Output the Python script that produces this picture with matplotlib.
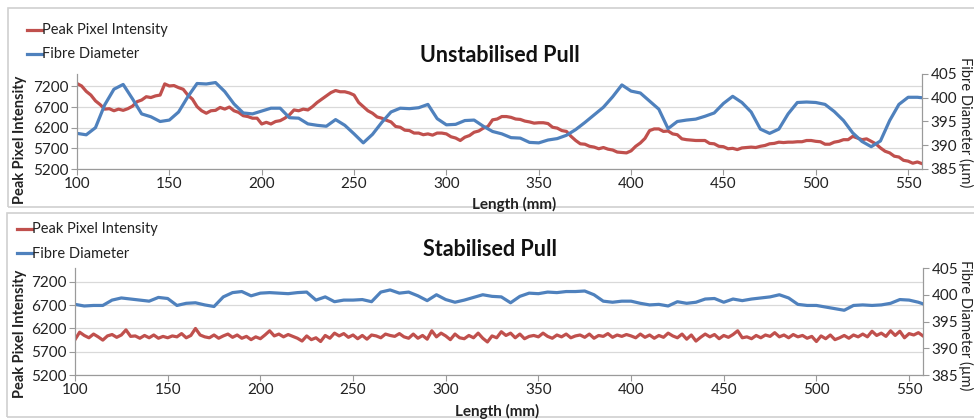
import numpy as np
import matplotlib.pyplot as plt
from matplotlib.patches import Rectangle
from matplotlib.lines import Line2D

plt.rcParams['font.family'] = ['Lato', 'DejaVu Sans']

RED = "#C0504D"
BLUE = "#4F81BD"
GRID = "#D9D9D9"
AXIS = "#9A9A9A"

# ---- data ----
x_red = np.arange(100, 560, 2.5)          # 184 samples
x_blue = np.append(np.arange(100, 560, 5), 557.5)

unstab_intensity = [
    7270, 7210, 7080, 6990, 6850, 6760, 6650, 6660, 6610, 6650,
    6620, 6660, 6720, 6830, 6870, 6950, 6930, 6970, 6990, 7260,
    7210, 7220, 7170, 7130, 6990, 6890, 6710, 6610, 6550, 6610,
    6620, 6690, 6650, 6700, 6610, 6570, 6490, 6470, 6430, 6430,
    6290, 6330, 6290, 6350, 6370, 6430, 6510, 6630, 6610, 6650,
    6630, 6710, 6810, 6890, 6970, 7050, 7100, 7070, 7070, 7040,
    6990, 6810, 6710, 6610, 6550, 6460, 6430, 6380, 6340, 6230,
    6210, 6140, 6130, 6070, 6070, 6030, 6050, 6020, 6070, 6070,
    6050, 5980, 5950, 5890, 5970, 6010, 6090, 6120, 6190, 6230,
    6390, 6410, 6470, 6470, 6450, 6410, 6400, 6360, 6340, 6310,
    6320, 6320, 6300, 6210, 6190, 6130, 6110, 5990, 5890, 5810,
    5800, 5750, 5730, 5690, 5720, 5680, 5660, 5610, 5600, 5590,
    5640, 5750, 5830, 5940, 6130, 6170, 6170, 6110, 6120, 6050,
    6030, 5930, 5910, 5900, 5890, 5890, 5890, 5820, 5810, 5750,
    5740, 5690, 5700, 5670, 5710, 5720, 5730, 5720, 5750, 5770,
    5810, 5820, 5850, 5840, 5850, 5850, 5860, 5860, 5890, 5890,
    5870, 5860, 5800, 5800, 5850, 5870, 5910, 5910, 5990, 5950,
    5910, 5930, 5870, 5810, 5710, 5630, 5590, 5510, 5490, 5410,
    5390, 5340, 5370, 5330,
]

unstab_diameter = [
    392.5, 392.2, 393.7, 398.5, 401.8, 402.8, 399.8, 396.6, 396.0, 395.0,
    395.3, 397.0, 400.2, 403.0, 402.9, 403.2, 401.3, 398.7, 396.8, 396.6,
    397.2, 397.8, 397.8, 395.8, 395.7, 394.5, 394.2, 394.0, 395.4, 394.2,
    392.4, 390.5, 392.3, 394.8, 397.0, 397.8, 397.7, 397.9, 398.6, 395.6,
    394.3, 394.4, 395.2, 395.3, 394.0, 392.9, 392.4, 391.6, 391.5, 390.6,
    390.5, 391.1, 391.4, 392.1, 393.3, 394.8, 396.4, 398.0, 400.2, 402.7,
    401.4, 401.0, 399.3, 397.6, 393.5, 395.0, 395.3, 395.5, 396.1, 396.8,
    398.8, 400.3, 399.0, 397.0, 393.4, 392.5, 393.4, 396.6, 399.0, 399.1,
    399.0, 398.6, 397.1, 395.2, 392.6, 390.8, 389.7, 390.9, 395.2, 398.6,
    400.1, 400.1, 400.0,
]

stab_intensity = [
    5960, 6120, 6050, 6000, 6080, 6020, 5950, 6040, 6070, 6010,
    6060, 6170, 6030, 6040, 5990, 6050, 6000, 6060, 5990, 6030,
    6000, 6040, 6020, 6090, 6000, 6050, 6200, 6060, 6020, 6000,
    6060, 5990, 6040, 6080, 6010, 6060, 5990, 6030, 5960, 6020,
    5980, 6060, 6150, 6040, 6080, 6020, 6070, 6030, 5990, 5930,
    6040, 5960, 6000, 5920, 6050, 5990, 6100, 6040, 6090, 6010,
    6060, 5980, 6050, 5970, 6060, 6040, 6000, 6080, 6050, 6030,
    6090, 6020, 5990, 6080, 5990, 6050, 5970, 6150, 6020, 6100,
    6040, 5960, 6080, 6000, 5980, 6050, 6000, 6100, 5990, 5910,
    6040, 6000, 6130, 6050, 6100, 6000, 6080, 5980, 6030, 6050,
    6020, 6100, 6030, 5990, 6060, 6020, 6080, 6000, 6040, 6060,
    6010, 6080, 5990, 6050, 6030, 6090, 6010, 6060, 6030, 6070,
    6040, 6000, 6080, 6010, 6060, 5990, 6050, 6010, 6100, 6040,
    6000, 6080, 5970, 6060, 5930, 6010, 6080, 6020, 6070, 5980,
    6050, 6010, 6070, 6150, 6000, 6020, 5980, 6050, 6000, 6060,
    6030, 6110, 6020, 6060, 6000, 6070, 6020, 6050, 5990, 6030,
    5920, 6040, 5980, 6060, 5960, 6000, 6050, 5990, 6060, 6020,
    6080, 6020, 6140, 6050, 6100, 6030, 6150, 6050, 6140, 6000,
    6090, 6060, 6110, 6040,
]

stab_diameter = [
    398.2, 397.9, 398.0, 398.0, 399.0, 399.4, 399.2, 399.0, 398.8, 399.5,
    399.3, 398.0, 398.4, 398.5, 398.1, 397.8, 399.6, 400.4, 400.6, 399.8,
    400.3, 400.4, 400.3, 400.2, 400.4, 400.5, 399.0, 399.6, 398.7, 399.0,
    399.0, 399.1, 398.7, 400.5, 400.9, 400.3, 400.5, 399.8, 398.9, 400.0,
    399.1, 398.6, 399.0, 399.5, 400.0, 399.7, 399.6, 398.5, 399.7, 400.3,
    400.2, 400.5, 400.4, 400.6, 400.6, 400.7, 400.0, 398.8, 398.6, 398.8,
    398.8, 398.4, 398.1, 398.2, 397.9, 398.7, 398.4, 398.6, 399.2, 399.3,
    398.6, 399.2, 398.9, 399.2, 399.4, 399.6, 400.0, 399.4, 398.2, 398.0,
    398.0, 397.7, 397.4, 397.1, 398.0, 398.1, 398.0, 398.1, 398.4, 399.1,
    399.0, 398.6, 398.3,
]

left_ticks = [5200, 5700, 6200, 6700, 7200]
right_ticks = [385, 390, 395, 400, 405]
x_ticks = [100, 150, 200, 250, 300, 350, 400, 450, 500, 550]

W, H = 974, 419


def fx(px):
    return px / W


def fy(py):
    return 1 - py / H


fig = plt.figure(figsize=(W / 100, H / 100), dpi=100)

# panel frames
for (x0, y0, y1) in [(8, 8, 207), (7, 213, 417)]:
    fig.add_artist(Rectangle((fx(x0), fy(y1)), 1.2, fy(y0) - fy(y1),
                             transform=fig.transFigure, fill=False,
                             edgecolor="#D0D0D0", lw=1.2))


def panel(left, right, top, bottom, red, blue, title, title_x, title_y,
          leg_x, leg_y, ylab_y, rlab_y, xlab_x, xlab_y):
    ax = fig.add_axes([fx(left), fy(bottom), fx(right) - fx(left),
                       fy(top) - fy(bottom)])
    ax.plot(x_red, red, color=RED, lw=2.3)
    ax.set_xlim(100, 557.5)
    ax.set_ylim(5200, 7500)
    ax.set_yticks(left_ticks)
    ax.set_xticks(x_ticks)
    ax.yaxis.grid(True, color=GRID, lw=0.9)
    ax.set_axisbelow(True)

    ax2 = ax.twinx()
    ax2.plot(x_blue, blue, color=BLUE, lw=2.3)
    ax2.set_ylim(385, 405)
    ax2.set_yticks(right_ticks)

    for a in (ax, ax2):
        a.spines["top"].set_visible(False)
        for s in ("left", "right", "bottom"):
            a.spines[s].set_color(AXIS)
        a.tick_params(labelsize=11, colors=AXIS, labelcolor="#222222",
                      length=4, width=0.8, pad=2)
        a.patch.set_visible(False)

    fig.text(fx(title_x), fy(title_y), title, fontsize=15.5,
             fontweight="bold", ha="center", va="center", color="#111111")
    fig.text(fx(20), fy(ylab_y), "Peak Pixel Intensity", rotation=90,
             fontsize=10.5, fontweight="bold", ha="center", va="center",
             color="#222222")
    fig.text(fx(966), fy(rlab_y), "Fibre Diameter (\u00b5m)", rotation=270,
             fontsize=10.5, ha="center", va="center", color="#222222")
    fig.text(fx(xlab_x), fy(xlab_y), "Length (mm)", fontsize=11,
             fontweight="bold", ha="center", va="center", color="#222222")

    for dy, col, lab in [(0, RED, "Peak Pixel Intensity"),
                         (24.5, BLUE, "Fibre Diameter")]:
        fig.add_artist(Line2D([fx(leg_x), fx(leg_x + 15)],
                              [fy(leg_y + dy)] * 2, color=col, lw=2.3,
                              transform=fig.transFigure))
        fig.text(fx(leg_x + 15), fy(leg_y + dy), lab, fontsize=10.5,
                 ha="left", va="center", color="#222222")


panel(77, 922, 74, 169, unstab_intensity, unstab_diameter,
      "Unstabilised Pull", 500, 56, 27, 30, 140, 122, 514, 204)
panel(75, 923, 268, 375, stab_intensity, stab_diameter,
      "Stabilised Pull", 490, 250, 17, 229, 334, 325, 497, 411)

fig.savefig("out.png", dpi=100)
